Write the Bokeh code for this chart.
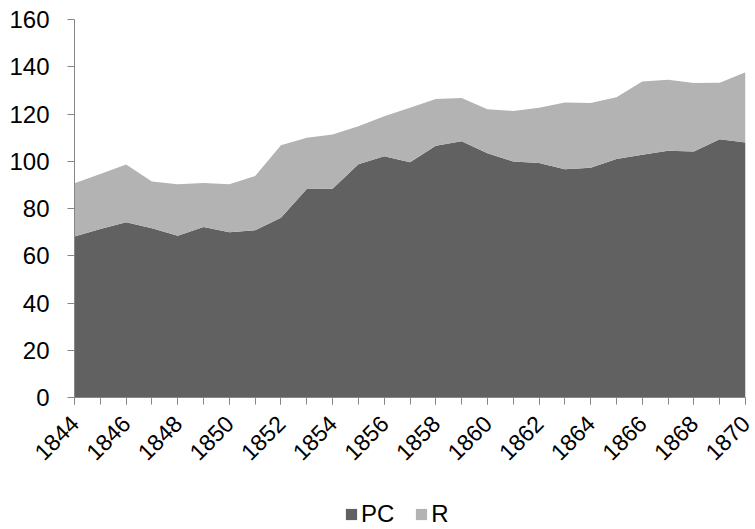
from bokeh.plotting import figure
from bokeh.layouts import column
from bokeh.models import FixedTicker, Legend, LegendItem, Range1d
from bokeh.embed import file_html
from bokeh.resources import INLINE
import numpy as np

years = list(range(1844, 1871))
pc = [68.2, 71.3, 74.2, 71.6, 68.5, 72.2, 69.9, 70.8, 76.1, 88.3, 88.4, 98.7, 102.1,
      99.6, 106.6, 108.5, 103.4, 99.9, 99.3, 96.6, 97.3, 101.0, 102.7, 104.4, 104.1, 109.3, 107.9]
total = [90.7, 94.6, 98.6, 91.4, 90.3, 90.8, 90.3, 93.8, 106.8, 110.0, 111.3, 114.8, 119.1,
         122.6, 126.4, 126.8, 122.0, 121.3, 122.6, 124.9, 124.7, 127.1, 133.8, 134.5, 133.1, 133.2, 137.7]
r = [round(t - p, 1) for t, p in zip(total, pc)]
series_names = ["PC", "R"]
y_ticks = [0, 20, 40, 60, 80, 100, 120, 140, 160]
x_label_years = list(range(1844, 1871, 2))

FONT = "Liberation Sans"
PC_COLOR = "#616161"
R_COLOR = "#b3b3b3"
AXIS_COLOR = "#868686"

p = figure(width=755, height=493, output_backend="svg", toolbar_location=None,
           x_range=Range1d(1844, 1870), y_range=Range1d(0, 160),
           min_border_left=74, min_border_right=10, min_border_top=19,
           min_border_bottom=96)
p.outline_line_color = None
p.grid.visible = False
p.background_fill_color = "white"
p.border_fill_color = "white"

pc_arr = np.array(pc)
top = pc_arr + np.array(r)
a1 = p.varea(x=years, y1=np.zeros(len(years)), y2=pc_arr, fill_color=PC_COLOR)
a2 = p.varea(x=years, y1=pc_arr, y2=top, fill_color=R_COLOR)

xa = p.xaxis[0]
xa.ticker = FixedTicker(ticks=x_label_years, minor_ticks=years)
xa.major_label_orientation = np.pi / 4
xa.major_label_text_font = FONT
xa.major_label_text_font_size = "23px"
xa.major_label_text_color = "black"
xa.axis_line_color = AXIS_COLOR
xa.major_tick_line_color = AXIS_COLOR
xa.minor_tick_line_color = AXIS_COLOR
xa.major_tick_in = 0
xa.major_tick_out = 7
xa.minor_tick_in = 0
xa.minor_tick_out = 7
xa.major_label_standoff = 15

ya = p.yaxis[0]
ya.ticker = FixedTicker(ticks=y_ticks)
ya.major_label_text_font = FONT
ya.major_label_text_font_size = "24px"
ya.major_label_text_color = "black"
ya.axis_line_color = AXIS_COLOR
ya.major_tick_line_color = AXIS_COLOR
ya.minor_tick_line_color = None
ya.major_tick_in = 0
ya.major_tick_out = 7
ya.major_label_standoff = 18

# legend strip below the chart (its swatch renderers lie outside its view)
lg = figure(width=755, height=36, output_backend="svg", toolbar_location=None,
            x_range=Range1d(0, 1), y_range=Range1d(0, 1),
            x_axis_type=None, y_axis_type=None, min_border=0)
lg.outline_line_color = None
lg.grid.visible = False
l1 = lg.varea(x=years, y1=np.zeros(len(years)), y2=pc_arr, fill_color=PC_COLOR)
l2 = lg.varea(x=years, y1=pc_arr, y2=top, fill_color=R_COLOR)
legend = Legend(items=[LegendItem(label=series_names[0], renderers=[l1]),
                       LegendItem(label=series_names[1], renderers=[l2])],
                orientation="horizontal", location=(270, 1),
                border_line_color=None, background_fill_alpha=0,
                label_text_font=FONT, label_text_font_size="24px",
                label_text_color="black",
                glyph_width=14, glyph_height=14, spacing=20,
                label_standoff=3, margin=0, padding=0)
lg.add_layout(legend, "center")

layout = column(p, lg, spacing=0)
open("out.html", "w").write(file_html(layout, INLINE))
